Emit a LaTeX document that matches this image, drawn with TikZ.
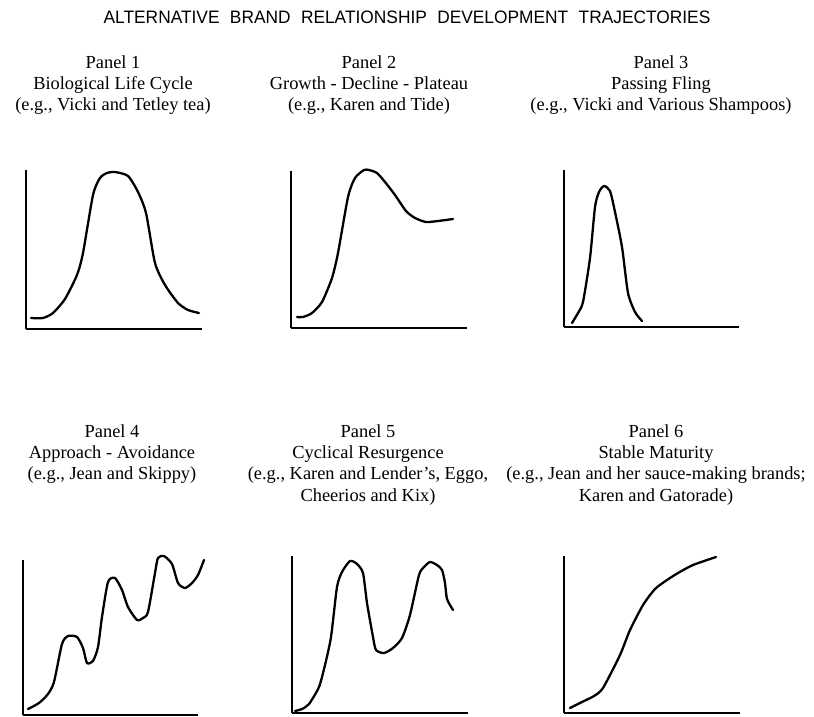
\documentclass[tikz,border=0pt]{standalone}
\usepackage{fontspec}
\setmainfont{Liberation Serif}
\newfontfamily\titlefont{Liberation Sans}
\begin{document}
\begin{tikzpicture}[x=1pt,y=-1pt,
  curve/.style={line width=2.3pt,line join=round,line cap=round},
  yaxis/.style={line width=1.1pt},
  xaxis/.style={line width=1.8pt},
  label/.style={align=center,inner sep=0pt,anchor=north,font=\fontsize{18.4}{21.3}\selectfont},
  ]
\useasboundingbox (0,0) rectangle (814,717);
\fill[white] (0,0) rectangle (814,717);
% title
\node[inner sep=0pt,anchor=base] (title) at (407,24)
  {\fontsize{18}{18}\titlefont\scalebox{0.963}[1]{ALTERNATIVE\hspace{0.6em}BRAND\hspace{0.6em}RELATIONSHIP\hspace{0.6em}DEVELOPMENT\hspace{0.6em}TRAJECTORIES}};
% labels
\node[label] (l1) at (113,55.4) {Panel 1\\Biological Life Cycle\\(e.g., Vicki and Tetley tea)};
\node[label] (l2) at (369,55.4) {Panel 2\\Growth - Decline - Plateau\\(e.g., Karen and Tide)};
\node[label] (l3) at (661,55.4) {Panel 3\\Passing Fling\\(e.g., Vicki and Various Shampoos)};
\node[label] (l4) at (112,424.4) {Panel 4\\Approach - Avoidance\\(e.g., Jean and Skippy)};
\node[label] (l5) at (368,424.4) {Panel 5\\Cyclical Resurgence\\(e.g., Karen and Lender’s, Eggo,\\Cheerios and Kix)};
\node[label] (l6) at (656,424.4) {Panel 6\\Stable Maturity\\(e.g., Jean and her sauce-making brands;\\Karen and Gatorade)};
% panel 1
\draw[yaxis] (26,170) -- (26,329);
\draw[xaxis] (25.5,329) -- (202,329);
\draw[curve] plot[smooth,tension=0.4] coordinates {(31,318) (43,318) (53,313) (65,299) (77,275) (83,253) (93,195) (100,178) (107,173) (115,172) (128,176) (138,192) (146,213) (155,263) (165,285) (178,303) (188,310) (199,313)};
% panel 2
\draw[yaxis] (291,171) -- (291,328);
\draw[xaxis] (290.5,328) -- (467,328);
\draw[curve] plot[smooth,tension=0.4] coordinates {(297,317) (303,317) (312,313) (322,302) (332,278) (338,253) (348,197) (355,178) (364,170) (369,170) (377,173) (385,182) (395,195) (406,211) (415,218) (426,222) (438,221) (453,219)};
% panel 3
\draw[yaxis] (564,170) -- (564,327);
\draw[xaxis] (563.5,327) -- (739,327);
\draw[curve] plot[smooth,tension=0.4] coordinates {(572,323) (578,313) (583,302) (590,258) (595,207) (599,192) (604,186) (610,191) (615,212) (622,247) (628,293) (635,312) (642,321)};
% panel 4
\draw[yaxis] (23,560) -- (23,715);
\draw[xaxis] (22.5,715) -- (198,715);
\draw[curve] plot[smooth,tension=0.4] coordinates {(28,709) (39,703) (48,694) (54,682) (62,644) (68,636) (77,637) (83,648) (87,663) (93,661) (98,647) (102,617) (108,582) (115,578) (122,590) (128,607) (137,620) (143,618) (148,612) (155,573) (158,558) (164,556) (172,564) (178,583) (185,588) (192,583) (198,575) (204,560)};
% panel 5
\draw[yaxis] (292,556) -- (292,713);
\draw[xaxis] (291.5,713) -- (468,713);
\draw[curve] plot[smooth,tension=0.4] coordinates {(295,711) (302,709) (309,704) (319,687) (325,665) (331,637) (337,587) (342,572) (350,561) (357,564) (363,573) (367,603) (373,637) (376,650) (384,653) (393,648) (402,638) (410,615) (419,575) (424,567) (430,562) (437,565) (442,570) (445,583) (447,599) (453,610)};
% panel 6
\draw[yaxis] (564,556) -- (564,713);
\draw[xaxis] (563.5,713) -- (740,713);
\draw[curve] plot[smooth,tension=0.4] coordinates {(570,708) (582,702) (594,696) (603,688) (620,655) (630,630) (643,605) (655,589) (667,580) (678,573) (693,565) (716,557)};
\end{tikzpicture}
\end{document}
